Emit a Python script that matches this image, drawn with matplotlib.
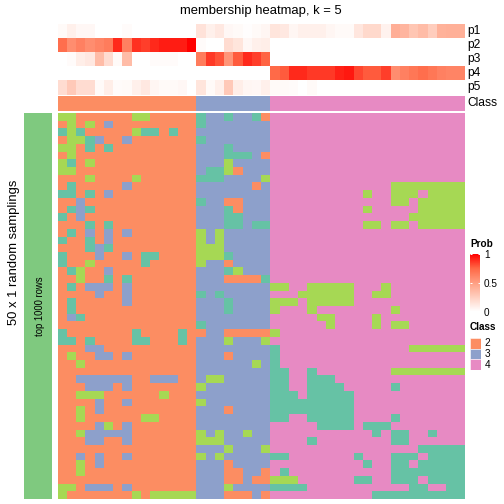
import numpy as np
import matplotlib
matplotlib.use('Agg')
import matplotlib.pyplot as plt
from matplotlib.colors import ListedColormap, LinearSegmentedColormap, Normalize
from matplotlib.colorbar import ColorbarBase

plt.rcParams['font.family'] = ['Liberation Sans', 'DejaVu Sans']

# class per sampling (row) and sample (column): T=1 O=2 B=3 P=4 G=5
# block2: samples of class 2, block3: class 3, block4: class 4
block2 = ["GGOOOOOOGGOOOOO", "OGOGOBOOOOOOOOO", "TGTOOOOOGTTOTOO", "OGGTBOOBOOOOOOO",
          "GGOTOTOOOOOOOOO", "OGOOOOOOOOOOOOO", "GTOGOOOOOOOOOOO", "GGOOOOOOOOOOOOO",
          "OOOGOOOOGOOOOOO", "OTOOOOOBOOOOOOO", "TTOTOBOOOOOOOOO", "OOBOOOOOOOOOOOO",
          "OTBTOOOOOOOOOOO", "TOBOOOOOOOOOOOO", "OOOTOTOOOOOOOOO", "OTOBOBOBOOOOOOO",
          "TOOTOBOOOOOOOOO", "OOOTBTOOOOOOOOO", "TOOOBOOBOTTOOOO", "TOOGOOOOOTOOOOO",
          "OTGOOBOOOOOOOOO", "OOGOOTOTOOOOOOO", "OTOBBBOBOOOOOOO", "OOOOBOOBOOOOOOO",
          "OTOOOOOBOOOOOOO", "OTOOOOOOOOOOOOO", "OBTOOOOOOOOOOOO", "OOOOOOOOOOOOOOO",
          "TOOOOOOOTOOOOTO", "TTOTOOOOTTOOOTO", "OOOBBOOOOOOOOOO", "OGOOBBOBOOOOOOO",
          "OOGOOOOOOOOOOOO", "OOOOOOOOOOOOOOO", "OOBBBBBBOOBBBOO", "OOOBBBOBOOOOOOO",
          "OOGGGOOOOOOGOOO", "OOOOBOOBOOOOOOO", "OOGOBOOOOOOOOOO", "OOGOOOOOOGGOOOO",
          "OOOOBGOBOOOOOOO", "OOGBBBBBOOOOOOO", "OOOBBOOBOOOOOOO", "OOOOOOOOOOOOOOO",
          "OOBOBOOBOOOOOOO", "OOGOBOOOOOOOOOO", "OOGOOOOOOOOOOOO", "OOOOOOOOOOOOOOO",
          "GGOBBBOBOOOOOOO", "GOOOOOOOGOGGGGG"]
block3 = ["TBBTBBTO", "TBBBBBBB", "BBBBBBBB", "TBBBBBBB", "BBBTBBBB", "BBBTTTBO",
          "BBBGBBBB", "BTTGOBBB", "TTTBBBBG", "BBBBBBOB", "BBBBBBBB", "TBBOOBBB",
          "BBBTOBBB", "BBBTTBBB", "BBBTTBTT", "GBGBBBBB", "GBGBBBBB", "GGGBBBBB",
          "GGGTBBBB", "GBBOBBBB", "BBBTGBBB", "BBBOOOOT", "BBBBBBBB", "TBTBBBBB",
          "BBBTBBBB", "BBBTBBBB", "BBBBBBBB", "TBBBBBBB", "OBBOOOOO", "BBBGBBBG",
          "BBBBBBBB", "BBBOBBBB", "BBBBBBGB", "BBBBBBBB", "BGGBBBBB", "GBBBBBBB",
          "BBBBBBBB", "GBBBBBBB", "BBBOBBBB", "BBBBBBBB", "BBBBBBBB", "GBGBBGBB",
          "GGGBBBBB", "BBBGBBBG", "GBGBBBBB", "BBBOBBBB", "BBBOOBBO", "BBBOOBOO",
          "BBBGBBBB", "BBBOOOBO"]
block4 = ["PPPPPPPPPPPPPPPPPPPPP", "PPPPPPPPPPPPPPPPPPPPP", "PPPPPPPPPPPPPPPPPPPPP",
          "PPPPPPPPPPPPPPPPPPPPP", "PPPPPPPPPPPPPPPPPPPPP", "PPPPPPPPPPPPPPPPPPPPP",
          "PPPPPPPPPPPPPPPPPPPPP", "PPPPPPPPPPPPPPPPPPPPP", "PPPPPPPPPPPPPPPPPPPPP",
          "PPPPPPPPPPPPPGGGGGGGG", "PPPPPPPPPPGPPGGGPGGGG", "PPPPPPPPPPPPPGGPGGGGG",
          "PPPPPPPPPPGPPPPPGGGGG", "PPPPPPPPPPPPPPPGGGGGG", "PPPPPPPPPPGGPGGPGGGGG",
          "PPPPPPPPPPPPPPPPPPPPP", "PPPPPPPPPPPPPPPPPPPPP", "PPPPPPPPPPPPPPPPPPPPP",
          "PPPPPPPPPPPPPPPPPPPPP", "PPPPPPPPPPPPPPPPPPPPP", "PPPPPPPPPPPPPPPPPPPPP",
          "PPPPPPPPPPPPPPPPPPPPP", "GGPPGGGGGPPPGPPPPPPPP", "PPPGGGGGGPPGGPPPPPPPP",
          "GGGPGGGGGPPPPPPPPPPPP", "GPPPGPPPPPPPPGPPPPPPP", "PPPPPGGPPPPGPPPPPPPPP",
          "PPPPPPGPPPPGPGGPPPPPP", "GPPPPPPPPPPPPPPPPPPPP", "PPPPPPPPPPPPPPPPPPPPP",
          "TPPPPPPPPPPPPPPGGGGGG", "TPPPPPPPPPPPPPPPPPPPP", "TPPPPPPPPPPPPPPPPPPPP",
          "TTPPTPPPPPPPPGGGGGGGG", "TTPPTTTPPPPPPPPPPPPPP", "TTPPTTTTPPPPPTPPPPPPP",
          "TTTPTTTTTPPPPPPPPPPPP", "TTTTTTTTTPPPPPPPPPPPP", "TTTTTTTTTPPPPPPPPPPPP",
          "TTPPTTTTTPPPPTPPPPPPP", "PPPPPTTTTPTTTPPPPPPPP", "PPPPPPPPPPPTPTTPPTPPP",
          "PPPPTPPPPPPPPTTPPPPPP", "PPPPPPPPPPPPPPPPTTTTT", "TTPPPPPPPTPPPTTTPTTTT",
          "PPPPPPPPPPTPPTTPTTTTT", "PTPPPPPPPPPPPTTTTTTTT", "GGGPPPPPPTTPPTTTPTTTT",
          "TTTTPPPPPPPPPPPTTPPTT", "PPPPPPPPPPPTTTTTTTTTT"]

# membership probabilities of the 44 samples
p1 = [0.03, 0.08, 0.04, 0.04, 0, 0, 0, 0.02, 0, 0, 0, 0, 0, 0, 0,
      0.15, 0.08, 0.12, 0.04, 0.03, 0.01, 0.03, 0.05,
      0.14, 0.12, 0.05, 0.08, 0.08, 0.08, 0.05, 0.03, 0.03, 0.13, 0.2, 0.2, 0.07,
      0.42, 0.38, 0.3, 0.35, 0.26, 0.4, 0.41, 0.41]
p2 = [0.72, 0.58, 0.64, 0.58, 0.62, 0.66, 0.9, 0.64, 0.88, 0.85, 0.9, 0.93, 0.93, 0.93, 1.0,
      0.02, 0, 0, 0.18, 0.14, 0.04, 0.08, 0.09,
      0, 0, 0, 0, 0, 0, 0, 0, 0, 0, 0, 0, 0, 0, 0, 0, 0, 0, 0, 0, 0]
p3 = [0, 0.02, 0.09, 0.12, 0.35, 0.18, 0.03, 0.35, 0, 0, 0.02, 0.02, 0.02, 0, 0,
      0.66, 0.86, 0.8, 0.54, 0.78, 0.9, 0.85, 0.76,
      0, 0, 0, 0, 0, 0, 0, 0, 0, 0, 0, 0, 0, 0, 0, 0, 0, 0, 0, 0, 0]
p4 = [0, 0, 0, 0, 0, 0, 0, 0, 0, 0, 0, 0, 0, 0, 0,
      0, 0, 0, 0, 0, 0, 0, 0,
      0.74, 0.78, 0.9, 0.9, 0.86, 0.86, 0.86, 0.92, 0.94, 0.83, 0.78, 0.78, 0.85,
      0.58, 0.64, 0.68, 0.72, 0.68, 0.64, 0.62, 0.62]
p5 = [0.18, 0.28, 0.18, 0.18, 0.03, 0.09, 0.02, 0.03, 0.08, 0.12, 0.05, 0.03, 0.03, 0.04, 0,
      0.14, 0.03, 0.08, 0.28, 0.09, 0.05, 0.04, 0.08,
      0.03, 0.03, 0.02, 0, 0.03, 0, 0, 0, 0, 0, 0, 0, 0, 0, 0, 0, 0, 0, 0, 0, 0]
class_labels = [2] * 15 + [3] * 8 + [4] * 21
prob_names = ['p1', 'p2', 'p3', 'p4', 'p5']
legend_classes = [2, 3, 4]
prob_ticks = [0, 0.5, 1]

letter_code = {'T': 1, 'O': 2, 'B': 3, 'P': 4, 'G': 5}
rows = [a + b + c for a, b, c in zip(block2, block3, block4)]
for r in rows:
    assert len(r) == 44, r
mat = np.array([[letter_code[ch] for ch in r] for r in rows])
probs = np.array([p1, p2, p3, p4, p5])

set2 = ['#66C2A5', '#FC8D62', '#8DA0CB', '#E78AC3', '#A6D854']
cls_cmap = ListedColormap(set2)
# white -> red, interpolated like a LAB ramp
prob_cmap = LinearSegmentedColormap.from_list(
    'prob', [(0, '#FFFFFF'), (0.25, '#FFCFBF'), (0.5, '#FF9E82'), (0.75, '#FF6846'), (1, '#FF0000')])

W = 504
fig = plt.figure(figsize=(7, 7), dpi=72)


def px_axes(x0, y0, x1, y1, off=True):
    ax = fig.add_axes([x0 / W, 1 - y1 / W, (x1 - x0) / W, (y1 - y0) / W])
    if off:
        ax.set_axis_off()
    return ax


def px_text(x, y, s, **kw):
    fig.text(x / W, 1 - y / W, s, **kw)


hx0, hx1 = 57.7, 464.7

# main heatmap
ax = px_axes(hx0, 113, hx1, 499)
ax.pcolormesh(mat, cmap=cls_cmap, vmin=0.5, vmax=5.5, antialiased=False)
ax.set_xlim(0, mat.shape[1])
ax.set_ylim(mat.shape[0], 0)

# probability annotation
axp = px_axes(hx0, 23.5, hx1, 94.5)
axp.pcolormesh(probs, cmap=prob_cmap, vmin=0, vmax=1, antialiased=False)
axp.set_xlim(0, probs.shape[1])
axp.set_ylim(5, 0)
for i, nm in enumerate(prob_names):
    px_text(467.5, 23.5 + 14.2 * (i + 0.5), nm, fontsize=12, va='center', ha='left')

# class annotation
axc = px_axes(hx0, 96, hx1, 110.5)
axc.pcolormesh(np.array([class_labels]), cmap=cls_cmap, vmin=0.5, vmax=5.5, antialiased=False)
axc.set_xlim(0, len(class_labels))
px_text(467.5, 103.3, 'Class', fontsize=12, va='center', ha='left')

# left row annotation
axb = px_axes(24.3, 113, 52.3, 499, off=False)
axb.set_facecolor('#7FC97F')
axb.set_xticks([])
axb.set_yticks([])
for s in axb.spines.values():
    s.set_visible(False)
axb.text(0.55, 0.5, 'top 1000 rows', rotation=90, ha='center', va='center',
         fontsize=9.5, transform=axb.transAxes)
px_text(14, 252, '50 x 1 random samplings', rotation=90, ha='center', va='center', fontsize=13)

# title
px_text(261, 11, 'membership heatmap, k = 5', ha='center', va='center', fontsize=13)

# Prob legend
px_text(470, 244, 'Prob', fontsize=10, fontweight='bold', va='center', ha='left')
cax = px_axes(470, 254, 480, 311.5, off=False)
cb = ColorbarBase(cax, cmap=prob_cmap, norm=Normalize(0, 1), ticks=prob_ticks)
cb.outline.set_visible(False)
cb.set_ticklabels(['0', '0.5', '1'])
cax.tick_params(length=0, labelsize=10, pad=4)
cax.hlines(prob_ticks, 0, 0.2, color='white', lw=1)
cax.hlines(prob_ticks, 0.8, 1, color='white', lw=1)

# Class legend
px_text(470, 327, 'Class', fontsize=10, fontweight='bold', va='center', ha='left')
lax = px_axes(470, 338, 480.5, 370)
lax.set_xlim(0, 1)
lax.set_ylim(len(legend_classes), 0)
for i, c in enumerate(legend_classes):
    lax.bar(0.5, 1, bottom=i, width=1, color=set2[c - 1], edgecolor='white', linewidth=0.5)
    lax.text(1.4, i + 0.5, str(c), fontsize=10, va='center', ha='left')

fig.savefig('out.png', dpi=72)
